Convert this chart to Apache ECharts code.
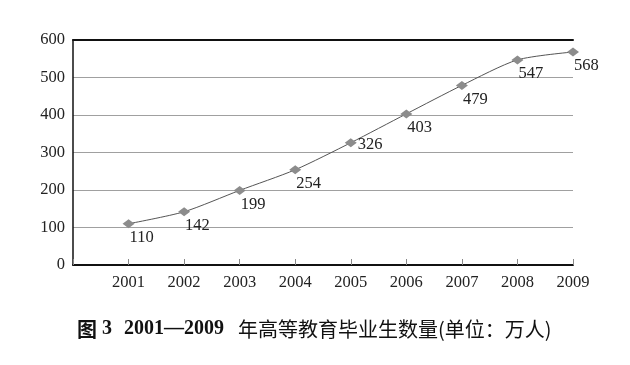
<!DOCTYPE html>
<html><head><meta charset="utf-8">
<script src="https://cdn.jsdelivr.net/npm/echarts@6/dist/echarts.min.js"></script>
<style>html,body{margin:0;padding:0;background:#fff}#c{width:630px;height:365px}</style>
</head><body><div id="c"></div>
<script>
var years = ['2001','2002','2003','2004','2005','2006','2007','2008','2009'];
var graduates = [110, 142, 199, 254, 326, 403, 479, 547, 568];
var yTicks = [0, 100, 200, 300, 400, 500, 600];

var xData = [''].concat(years);
var sData = ['-'].concat(graduates.map(function(v, i){
  if (years[i] === '2005') return {value: v, label: {position: 'right', align: 'left', verticalAlign: 'middle', offset: [0, 2]}};
  return v;
}));
var serif = '"Liberation Serif", "DejaVu Serif", serif';
var cjk = '"Noto Sans CJK SC", sans-serif';
var chart = echarts.init(document.getElementById('c'));
chart.setOption({
  animation: false,
  backgroundColor: '#fff',
  grid: {left: 73, right: 57, top: 40, bottom: 100, containLabel: false},
  title: {
    text: '{b|图}{n1|3}{n2|2001—2009}{c|年高等教育毕业生数量(单位：万人)}',
    left: 77, top: 319, padding: 0,
    textStyle: {
      rich: {
        b: {fontFamily: cjk, fontWeight: 'bold', fontSize: 20, color: '#111'},
        n1: {fontFamily: serif, fontWeight: 'bold', fontSize: 20, color: '#111', padding: [0, 0, 0, 5]},
        n2: {fontFamily: serif, fontWeight: 'bold', fontSize: 20, color: '#111', padding: [0, 0, 0, 12]},
        c: {fontFamily: cjk, fontWeight: 'normal', fontSize: 20, color: '#111', padding: [0, 0, 0, 14]}
      }
    }
  },
  xAxis: [{
    type: 'category', data: xData, boundaryGap: false, position: 'bottom',
    axisLine: {lineStyle: {color: '#111', width: 2}},
    axisTick: {inside: true, length: 6, lineStyle: {color: '#888'}},
    axisLabel: {fontFamily: serif, fontSize: 16.5, color: '#222', margin: 9, interval: 0},
    splitLine: {show: false}
  }, {
    type: 'category', data: xData, boundaryGap: false, position: 'top',
    axisLine: {lineStyle: {color: '#111', width: 2}},
    axisTick: {show: false}, axisLabel: {show: false}, splitLine: {show: false}
  }],
  yAxis: {
    type: 'value', min: 0, max: 600, interval: 100,
    axisLine: {show: true, lineStyle: {color: '#111', width: 1.5}},
    axisTick: {show: false},
    axisLabel: {fontFamily: serif, fontSize: 16.5, color: '#222', margin: 8,
      formatter: function(v){ return yTicks.indexOf(v) >= 0 ? String(v) : ''; }},
    splitLine: {lineStyle: {color: '#a0a0a0', width: 1.2}}
  },
  series: [{
    type: 'line', xAxisIndex: 0, data: sData, smooth: 0.25,
    symbol: 'diamond', symbolSize: [12, 9],
    itemStyle: {color: '#8c8c8c'},
    lineStyle: {color: '#555', width: 1},
    label: {show: true, position: 'bottom', align: 'left', distance: 1, offset: [1, 0],
      fontFamily: serif, fontSize: 16.5, color: '#222'}
  }]
});
</script></body></html>
